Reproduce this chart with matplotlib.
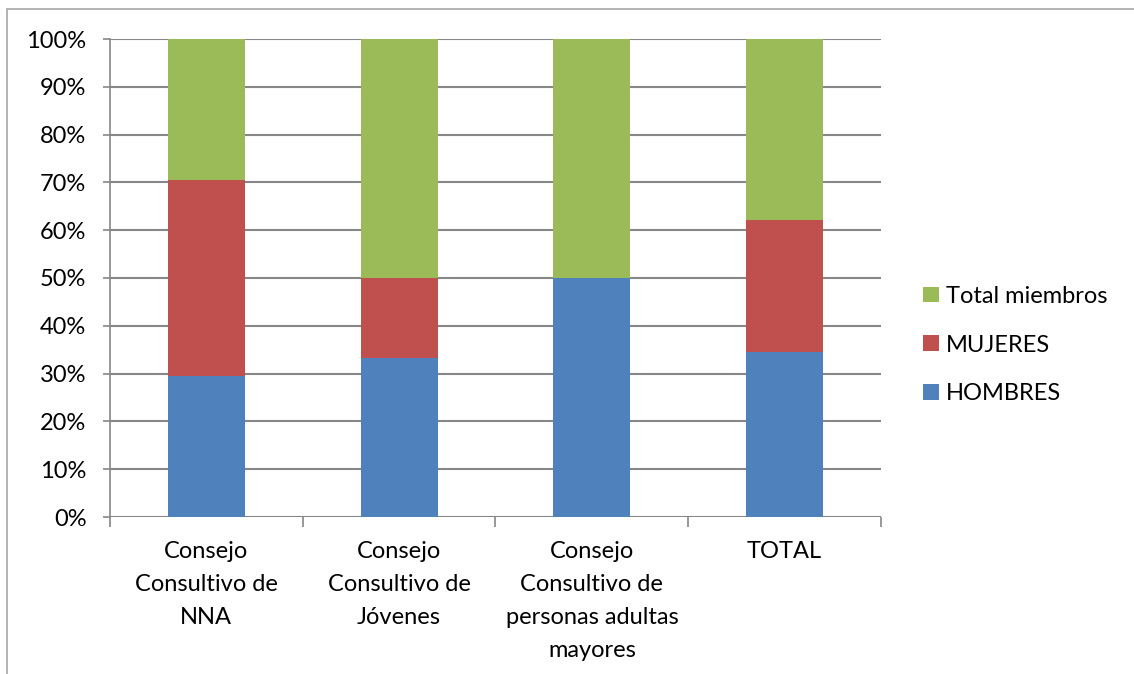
import matplotlib
matplotlib.use("Agg")
import matplotlib.pyplot as plt
from matplotlib.patches import Rectangle
import numpy as np

categories = ["Consejo\nConsultivo de\nNNA", "Consejo\nConsultivo de\nJóvenes",
              "Consejo\nConsultivo de\npersonas adultas\nmayores", "TOTAL"]
hombres = [29.4, 33.3, 50.0, 34.5]
mujeres = [41.2, 16.7, 0.0, 27.6]
total_miembros = [29.4, 50.0, 50.0, 37.9]
yticks = [0, 10, 20, 30, 40, 50, 60, 70, 80, 90, 100]

plt.rcParams['font.family'] = ['Lato', 'DejaVu Sans']
FS = 17

fig = plt.figure(figsize=(11.34, 6.74), dpi=100)
ax = fig.add_axes([110/1134, 1-517/674, (881-110)/1134, (517-39)/674])

x = np.arange(len(categories))
w = 0.4
c_h, c_m, c_t = "#4F81BD", "#C0504D", "#9BBB59"
b1 = ax.bar(x, hombres, w, color=c_h, label="HOMBRES", zorder=3)
b2 = ax.bar(x, mujeres, w, bottom=hombres, color=c_m, label="MUJERES", zorder=3)
bot = np.array(hombres) + np.array(mujeres)
b3 = ax.bar(x, total_miembros, w, bottom=bot, color=c_t, label="Total miembros", zorder=3)

ax.set_xlim(-0.5, len(categories) - 0.5)
ax.set_ylim(0, 100)
ax.set_yticks(yticks)
ax.set_yticklabels([f"{v}%" for v in yticks], fontsize=FS)
ax.yaxis.grid(True, color="#868686", linewidth=1.5, zorder=0)
ax.set_axisbelow(True)
for s in ["top", "right", "bottom"]:
    ax.spines[s].set_visible(False)
ax.spines["left"].set_color("#868686")
ax.spines["left"].set_linewidth(1.2)
ax.tick_params(axis="y", length=5, color="#868686", width=1.2, pad=12)

ax.set_xticks(x)
ax.set_xticklabels(categories, fontsize=FS, linespacing=1.7)
ax.tick_params(axis="x", length=0, pad=17.5)
ax.set_xticks(np.arange(-0.5, len(categories)), minor=True)
ax.tick_params(axis="x", which="minor", length=7, color="#868686", width=1.2)

leg = fig.legend(handles=[b3, b2, b1], labels=["Total miembros", "MUJERES", "HOMBRES"],
                 loc="center left", bbox_to_anchor=(902/1134, 1-345/674), frameon=False,
                 fontsize=FS, handlelength=0.65, handleheight=0.65, labelspacing=1.17,
                 handletextpad=0.3)

fig.patches.append(Rectangle((7/1134, -0.1), 1.2, 1 - 9/674 + 0.1, transform=fig.transFigure,
                             fill=False, edgecolor="#A6A6A6", linewidth=1.2))

fig.savefig("out.png", dpi=100)
